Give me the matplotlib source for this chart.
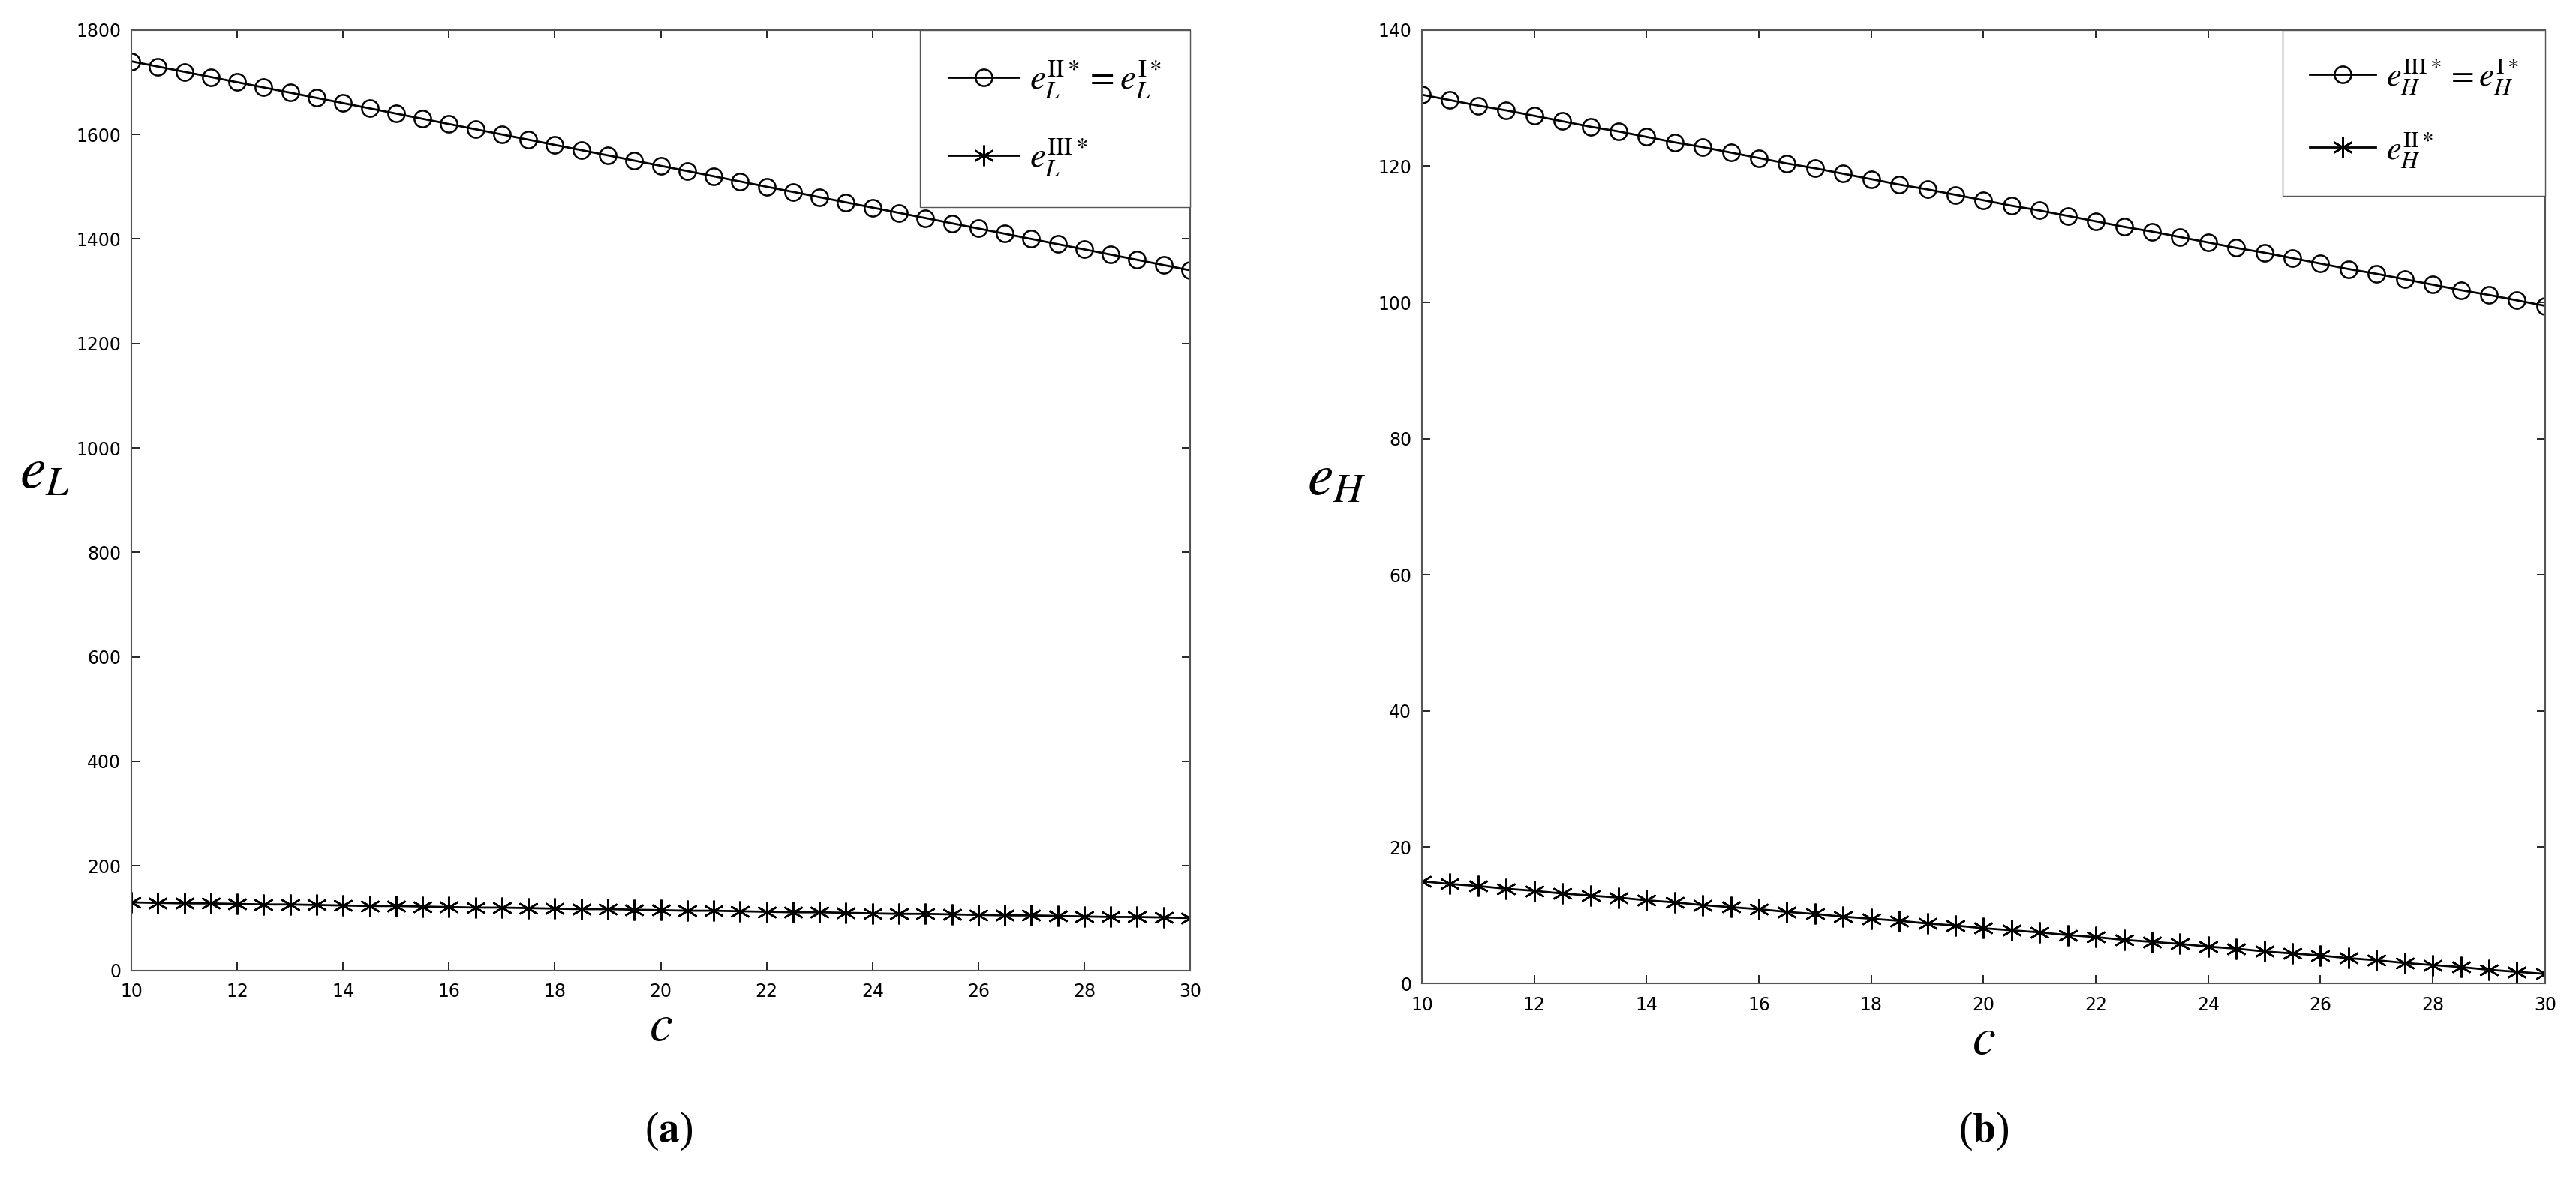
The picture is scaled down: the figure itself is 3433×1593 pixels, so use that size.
import matplotlib
matplotlib.use("Agg")
import matplotlib.pyplot as plt

plt.rcParams['mathtext.fontset'] = 'stix'
plt.rcParams['font.family'] = ['DejaVu Sans']

c = [10 + 0.5*i for i in range(41)]
eL_circ = [1740,1730,1720,1710,1700,1690,1680,1670,1660,1650,1640,1630,1620,1610,1600,1590,1580,1570,1560,1550,1540,
           1530,1520,1510,1500,1490,1480,1470,1460,1450,1440,1430,1420,1410,1400,1390,1380,1370,1360,1350,1340]
eL_star = [130,129,128,128,127,126,126,125,124,123,123,122,121,120,120,119,118,117,117,116,115,
           114,114,113,112,111,111,110,109,108,108,107,106,105,105,104,103,102,102,101,100]
eH_circ = [130.5,129.7,128.9,128.2,127.4,126.6,125.8,125.1,124.3,123.5,122.8,122.0,121.2,120.4,119.7,118.9,118.1,117.3,116.6,115.8,115.0,
           114.2,113.5,112.7,111.9,111.1,110.4,109.6,108.8,108.0,107.3,106.5,105.7,104.9,104.2,103.4,102.6,101.8,101.1,100.3,99.5]
eH_star = [15.0,14.6,14.3,13.9,13.6,13.2,12.9,12.6,12.2,11.9,11.5,11.2,10.9,10.5,10.2,9.8,9.5,9.2,8.8,8.5,8.1,
           7.8,7.5,7.1,6.8,6.4,6.1,5.8,5.4,5.1,4.7,4.4,4.1,3.7,3.4,3.0,2.7,2.4,2.0,1.7,1.4]

fig = plt.figure(figsize=(34.33, 15.93), dpi=100)
ax1 = fig.add_axes([0.051, 0.188, 0.411, 0.787])
ax2 = fig.add_axes([0.552, 0.177, 0.436, 0.798])

mk = dict(color='black', lw=2, mfc='none', mec='black', mew=1.8)
star = (6, 2, 0)

def style(ax):
    ax.set_xlim(10, 30)
    ax.set_xticks(range(10, 31, 2))
    ax.tick_params(labelsize=17, direction='in', length=8, width=1.2, top=True, right=True)
    ax.tick_params(axis='x', pad=12)
    ax.tick_params(axis='y', pad=10)
    for s in ax.spines.values():
        s.set_linewidth(1.5); s.set_color('#555555')
    ax.set_xlabel(r'$c$', fontsize=50, labelpad=0)

ax1.plot(c, eL_circ, marker='o', ms=16, label=r'$e_L^{\mathrm{II}*}=e_L^{\mathrm{I}*}$', **mk)
ax1.plot(c, eL_star, marker=star, ms=20, label=r'$e_L^{\mathrm{III}*}$', **mk)
ax1.set_ylim(0, 1800)
ax1.set_yticks(range(0, 1801, 200))
style(ax1)
ax1.set_ylabel(r'$e_L$', fontsize=56, rotation=0, labelpad=30)
ax1.legend(loc='upper right', fontsize=34, fancybox=False, edgecolor='#555555', framealpha=1,
           borderaxespad=0.0, labelspacing=1.0, handlelength=2.0, handletextpad=0.3, borderpad=0.8)

ax2.plot(c, eH_circ, marker='o', ms=16, label=r'$e_H^{\mathrm{III}*}=e_H^{\mathrm{I}*}$', **mk)
ax2.plot(c, eH_star, marker=star, ms=20, label=r'$e_H^{\mathrm{II}*}$', **mk)
ax2.set_ylim(0, 140)
ax2.set_yticks(range(0, 141, 20))
style(ax2)
ax2.set_ylabel(r'$e_H$', fontsize=56, rotation=0, labelpad=40)
ax2.legend(loc='upper right', fontsize=32, fancybox=False, edgecolor='#555555', framealpha=1,
           borderaxespad=0.0, labelspacing=1.0, handlelength=2.0, handletextpad=0.3, borderpad=0.8)

fig.text(0.2595, 0.045, r'($\mathbf{a}$)', fontsize=40, ha='center', family='Liberation Serif')
fig.text(0.770, 0.045, r'($\mathbf{b}$)', fontsize=40, ha='center', family='Liberation Serif')

fig.savefig('out.png', dpi=100)
